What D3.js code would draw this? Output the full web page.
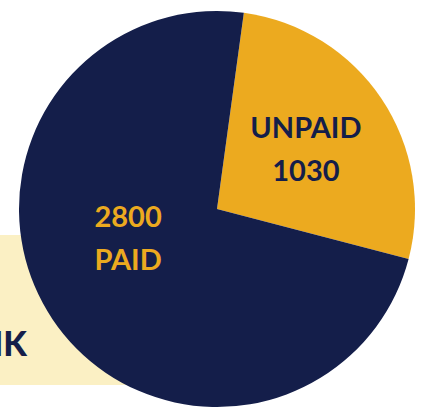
<!DOCTYPE html>
<html>
<head>
<meta charset="utf-8">
<script src="https://cdn.jsdelivr.net/npm/d3@7"></script>
<style>
  html, body { margin: 0; padding: 0; background: #fff; }
  svg { display: block; }
  .slice-label { font-family: Lato, "Open Sans", sans-serif; font-weight: 700; font-size: 29px; }
  .side-text { font-family: Lato, "Open Sans", sans-serif; font-weight: 900; font-size: 34px; fill: #141e4a; }
</style>
</head>
<body>
<div id="chart"></div>
<script>
// data
var categories = ["UNPAID", "PAID"];
var values = [1030, 2800];
var labelOrder = ["name-first", "value-first"]; // UNPAID over 1030, 2800 over PAID

var width = 429,
height = 412,
cx = 217,
cy = 209,
radius = 198;

var colors = { "UNPAID": "#ecaa1f", "PAID": "#141e4a" };
var labelColors = { "UNPAID": "#141e4a", "PAID": "#ecaa1f" };

var svg = d3.select("#chart")
.append("svg")
.attr("width", width)
.attr("height", height);

// cream band behind the pie, with cut-off heading text
svg.append("rect")
.attr("x", 0)
.attr("y", 235)
.attr("width", 230)
.attr("height", 150)
.attr("fill", "#fbf0c4");

svg.append("text")
.attr("class", "side-text")
.attr("text-anchor", "end")
.attr("x", 27)
.attr("y", 356)
.text("NK");

var data = categories.map(function(c, i) { return { name: c, value: values[i], order: labelOrder[i] }; });

var start = 0.136; // gold slice starts just right of 12 o'clock
var pie = d3.pie()
.sort(null)
.value(function(d) { return d.value; })
.startAngle(start)
.endAngle(start + 2 * Math.PI);

var arc = d3.arc().innerRadius(0).outerRadius(radius);
var labelArc = d3.arc().innerRadius(107 * 2 - 0).outerRadius(0); // centroid at r=107

var g = svg.append("g")
.attr("transform", "translate(" + cx + "," + cy + ")");

var arcs = pie(data);

g.selectAll("path")
.data(arcs)
.enter()
.append("path")
.attr("d", arc)
.attr("fill", function(d) { return colors[d.data.name]; });

// label nudges (paid label sits higher than its centroid)
var nudge = { "UNPAID": [0, 0], "PAID": [0, -31] };

var labels = g.selectAll("text.slice-label")
.data(arcs)
.enter()
.append("text")
.attr("class", "slice-label")
.attr("text-anchor", "middle")
.attr("fill", function(d) { return labelColors[d.data.name]; })
.attr("transform", function(d) {
	var c = labelArc.centroid(d);
	var n = nudge[d.data.name];
	return "translate(" + (c[0] + n[0]) + "," + (c[1] + n[1]) + ")";
});

labels.each(function(d) {
	var lines = d.data.order === "name-first"
		? [d.data.name, d.data.value]
		: [d.data.value, d.data.name];
	var t = d3.select(this);
	t.append("tspan").attr("x", 0).attr("y", -11).text(lines[0]);
	t.append("tspan").attr("x", 0).attr("y", 32).text(lines[1]);
});
</script>
</body>
</html>
